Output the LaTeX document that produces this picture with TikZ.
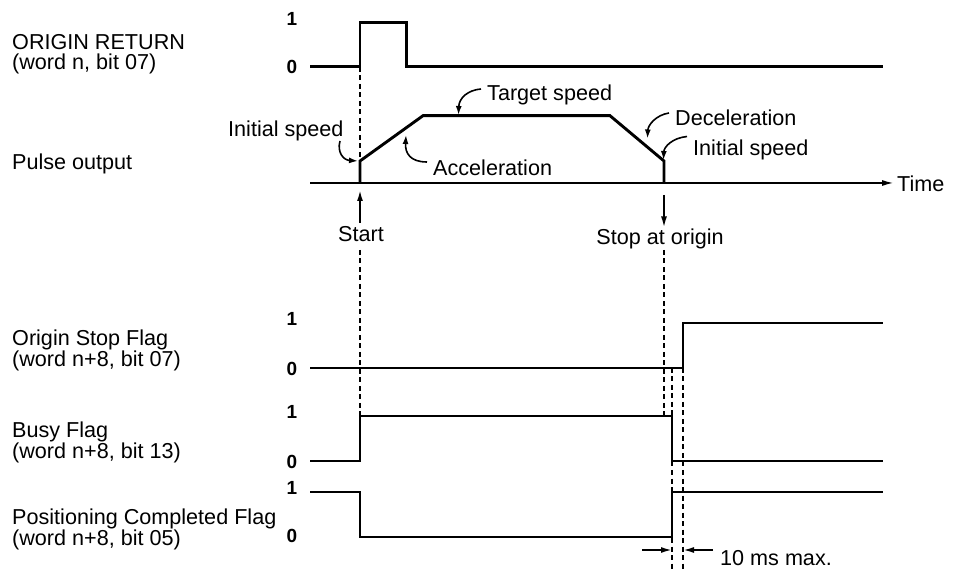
\documentclass[tikz,border=0pt]{standalone}
\usepackage{fontspec}
\setmainfont{Liberation Sans}
\usetikzlibrary{arrows.meta}
\begin{document}
\begin{tikzpicture}[x=1pt,y=-1pt,
  sig/.style={line width=2.9pt, line join=miter},
  axis/.style={line width=1.8pt},
  guide/.style={line width=1.3pt, dash pattern=on 5pt off 3.5pt},
  ann/.style={line width=1.6pt, -{Latex[length=9pt,width=6pt]}},
  vert/.style={line width=1.8pt, -{Latex[length=11pt,width=6pt]}},
  lbl/.style={font=\fontsize{21.6}{20}\selectfont, anchor=base west, inner sep=0pt},
  lvl/.style={font=\fontsize{19}{19}\selectfont\bfseries, inner sep=0pt},
  txt/.style={font=\fontsize{21.6}{20}\selectfont, inner sep=0pt}]
\useasboundingbox (0,0) rectangle (954,569);

% ---- left labels ----
\node[lbl] (l1a) at (12,50) {ORIGIN RETURN};
\node[lbl] (l1b) at (12,69.5) {(word n, bit 07)};
\node[lbl] (l2) at (12,170) {Pulse output};
\node[lbl] (l3a) at (12,345.5) {Origin Stop Flag};
\node[lbl] (l3b) at (12,366.5) {(word n+8, bit 07)};
\node[lbl] (l4a) at (12,437.5) {Busy Flag};
\node[lbl] (l4b) at (12,459) {(word n+8, bit 13)};
\node[lbl] (l5a) at (12,524) {Positioning Completed Flag};
\node[lbl] (l5b) at (12,545) {(word n+8, bit 05)};

% ---- level labels ----
\node[lvl] (or1) at (292,19) {1};
\node[lvl] (or0) at (292,67) {0};
\node[lvl] (os1) at (292,319) {1};
\node[lvl] (os0) at (292,368.5) {0};
\node[lvl] (bf1) at (292,411.5) {1};
\node[lvl] (bf0) at (292,462) {0};
\node[lvl] (pc1) at (292,487.5) {1};
\node[lvl] (pc0) at (292,535.5) {0};

% ---- dashed guides ----
\draw[guide] (360,67) -- (360,161);
\draw[guide] (360,250) -- (360,416);
\draw[guide] (664,250) -- (664,416);
\draw[guide] (672,368) -- (672,569);
\draw[guide] (683,368) -- (683,569);

% ---- waveforms ----
\draw[sig] (310,66.7) -- (360,66.7) -- (360,22.7) -- (406.7,22.7) -- (406.7,66.7) -- (883,66.7);
\draw[sig] (360,183) -- (360,161) -- (423,115.7) -- (610,115.7) -- (664,161) -- (664,183);
\draw[sig] (310,368) -- (683,368) -- (683,323) -- (883,323);
\draw[sig] (310,461) -- (360,461) -- (360,416) -- (672,416) -- (672,461) -- (883,461);
\draw[sig] (310,492) -- (360,492) -- (360,537) -- (672,537) -- (672,492) -- (883,492);

% ---- time axis ----
\coordinate (ax0) at (310,183);
\coordinate (ax1) at (894,183);
\draw[axis, -{Latex[length=12pt,width=6pt]}] (ax0) -- (ax1);
\node[lbl] (time) at (897,191.5) {Time};

% ---- start / stop ----
\node[txt, anchor=base] (start) at (361,242) {Start};
\coordinate (startTip) at (360,190);
\draw[vert] (start.north -| startTip) ++(0,-4) -- (startTip);
\node[txt, anchor=base] (stop) at (660,245) {Stop at origin};
\coordinate (stopTail) at (664,195);
\coordinate (stopTip) at (664,227.5);
\draw[vert] (stopTail) -- (stopTip);

% ---- annotations ----
\node[lbl] (is1) at (228,137) {Initial speed};
\node[lbl] (acc) at (433,176) {Acceleration};
\node[lbl] (tgt) at (487,100.5) {Target speed};
\node[lbl] (dec) at (675,125.5) {Deceleration};
\node[lbl] (is2) at (693,156) {Initial speed};

\coordinate (is1s) at (340,141);   \coordinate (is1t) at (358,161);
\coordinate (accs) at (427,162);   \coordinate (acct) at (406,135);
\coordinate (tgts) at (481,89);    \coordinate (tgtt) at (458.5,115);
\coordinate (decs) at (669,113);   \coordinate (dect) at (647.5,138.5);
\coordinate (is2s) at (687,136.5); \coordinate (is2t) at (663.5,160);

\draw[ann] (is1s) .. controls (337,152) and (343,160) .. (is1t);
\draw[ann] (accs) .. controls (410,162) and (405,153) .. (acct);
\draw[ann] (tgts) .. controls (468,90) and (459,98) .. (tgtt);
\draw[ann] (decs) .. controls (656,115) and (648,125) .. (dect);
\draw[ann] (is2s) .. controls (672,138) and (664,147) .. (is2t);

% ---- 10 ms dimension ----
\coordinate (d1s) at (642,550); \coordinate (d1t) at (672,550);
\coordinate (d2s) at (713,550); \coordinate (d2t) at (683,550);
\draw[axis, -{Latex[length=11pt,width=6pt]}] (d1s) -- (d1t);
\draw[axis, -{Latex[length=11pt,width=6pt]}] (d2s) -- (d2t);
\node[lbl] (tenms) at (720,565) {10 ms max.};
\end{tikzpicture}
\end{document}
